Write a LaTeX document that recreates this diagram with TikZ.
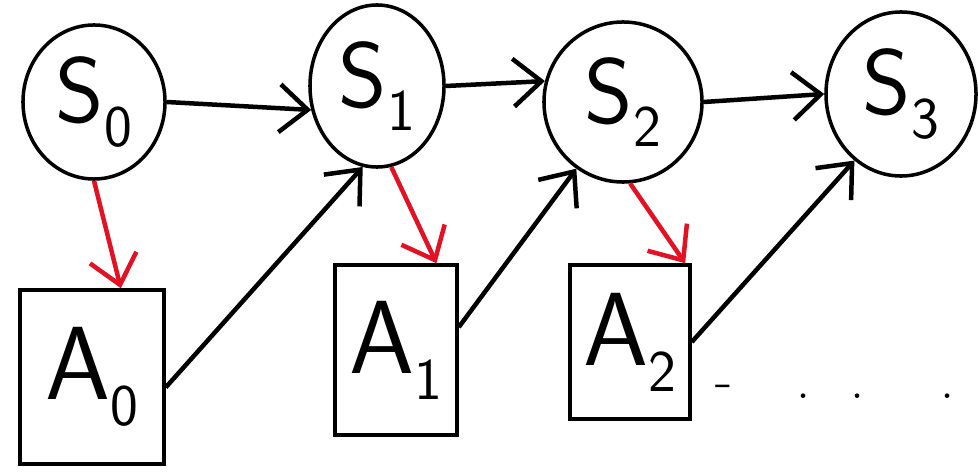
\documentclass[tikz,border=0pt]{standalone}
\usetikzlibrary{shapes.geometric,arrows.meta}
\definecolor{hred}{RGB}{226,18,36}
\tikzset{
  state/.style={draw,ellipse,line width=2.5pt,inner sep=0pt,font=\sffamily\fontsize{66}{66}\selectfont},
  act/.style={draw,rectangle,line width=2.5pt,inner sep=0pt,font=\sffamily\fontsize{74}{74}\selectfont},
  every edge/.style={draw,line width=3.2pt},
  >={Straight Barb[length=20pt,width=34pt]}
}
\newcommand{\lab}[2]{#1\raisebox{-0.25em}{\fontsize{42}{42}\selectfont #2}}
\begin{document}
\begin{tikzpicture}[x=0.025cm,y=-0.025cm,line width=2.5pt]
      \useasboundingbox (0,0) rectangle (978,472);
      \node[state,minimum width=3.55cm,minimum height=3.85cm] (S0) at (94,102){\lab{S}{0}};
      \node[state,minimum width=3.35cm,minimum height=4.05cm] (S1) at (377,86){\lab{S}{1}};
      \node[state,minimum width=3.95cm,minimum height=4cm] (S2) at (623,102){\lab{S}{2}};
      \node[state,minimum width=3.75cm,minimum height=4.1cm] (S3) at (901,94){\lab{S}{3}};

      \node[act,minimum width=3.6cm,minimum height=4.35cm] (A0) at (92,377){\lab{A}{0}};
      \node[act,minimum width=3.05cm,minimum height=4.25cm] (A1) at (396,350){\lab{A}{1}};
      \node[act,minimum width=3cm,minimum height=3.85cm] (A2) at (630,342){\lab{A}{2}};
      \node (dots) at (835,392){\fontsize{40}{40}\selectfont -\hspace{1.6cm}.\hspace{1cm}.\hspace{1.9cm}.};

      \draw (S0.east) edge[->] (S1.-160);
      \draw (S1.east) edge[->] (S2.165);
      \draw (S2.east) edge[->] (S3.west);
      \draw (A0.-8) edge[->] (S1.-100);
      \draw (A1.20) edge[->] (S2.-125);
      \draw (A2.east) edge[->] (S3.-125);
      \draw (S0.south) edge[->,hred] (A0.72);
      \draw (S1.-80) edge[->,hred] (A1.65);
      \draw (S2.-85) edge[->,hred] (A2.55);
    \end{tikzpicture}
\end{document}
